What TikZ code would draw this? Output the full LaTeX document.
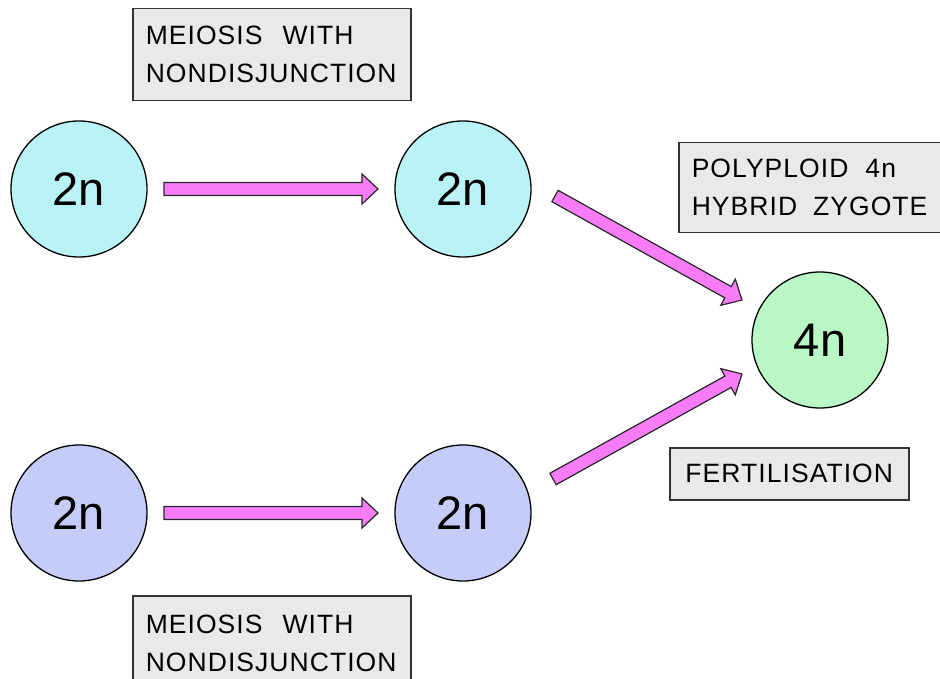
\documentclass[tikz,border=0pt]{standalone}
\usepackage{fontspec}
\setmainfont{Liberation Sans}
\newfontfamily\boxfont{Liberation Sans}[LetterSpace=4]
\usetikzlibrary{calc}

\definecolor{cellcyan}{HTML}{B9F3F6}
\definecolor{cellblue}{HTML}{C6CCF8}
\definecolor{cellgreen}{HTML}{B9F7C4}
\definecolor{arrowpink}{HTML}{F87CF8}
\definecolor{boxgrey}{HTML}{E9E9E9}
\definecolor{edgegrey}{HTML}{333333}

% broad outlined arrow from #1 (tail) to #2 (tip)
\newcommand\fatarrow[2]{%
  \coordinate (hb) at ($(#2)!16pt!(#1)$);
  \draw[broadarrow]
    ($(#1)!6.5pt!90:(#2)$) -- ($(hb)!6.5pt!90:(#2)$) -- ($(hb)!15pt!90:(#2)$)
    -- (#2)
    -- ($(hb)!15pt!-90:(#2)$) -- ($(hb)!6.5pt!-90:(#2)$) -- ($(#1)!6.5pt!-90:(#2)$)
    -- cycle;}

\begin{document}
\begin{tikzpicture}[x=1pt,y=-1pt,
  cell/.style={circle, draw=black, line width=1.3pt, minimum size=136pt, inner sep=0pt,
    font=\fontsize{47}{50}\selectfont},
  labelbox/.style={draw=edgegrey, fill=boxgrey, line width=1.5pt, anchor=north west,
    align=left, font=\boxfont\fontsize{26.5}{38}\selectfont, inner xsep=13pt, inner ysep=0pt},
  broadarrow/.style={draw=black!85, fill=arrowpink, line width=1.2pt, line join=miter}]
\useasboundingbox (0,0) rectangle (940,679);

% label boxes
\node[labelbox, minimum width=278pt, minimum height=92pt, text width=252pt] (mtop) at (132,8)
  {MEIOSIS\hspace{20pt}WITH\\NONDISJUNCTION};
\node[labelbox, minimum width=278pt, minimum height=96pt, text width=252pt] (mbot) at (132,595)
  {MEIOSIS\hspace{20pt}WITH\\NONDISJUNCTION};
\node[labelbox, minimum width=272pt, minimum height=90pt, text width=246pt] (poly) at (678,142)
  {POLYPLOID\hspace{17pt}4n\\HYBRID\hspace{16pt}ZYGOTE};
\node[labelbox, minimum width=239pt, minimum height=52pt, align=center] (fert) at (669,447)
  {FERTILISATION};

% cells
\node[cell, fill=cellcyan]  (tl) at (79,189)  {2n};
\node[cell, fill=cellcyan]  (tm) at (463,189) {2n};
\node[cell, fill=cellblue]  (bl) at (79,513)  {2n};
\node[cell, fill=cellblue]  (bm) at (463,513) {2n};
\node[cell, fill=cellgreen] (zy) at (820,340) {4n};

% arrow ends
\coordinate (t1s) at ($(tl.center)+(85,0)$);
\coordinate (t1e) at ($(tm.center)+(-85,0)$);
\coordinate (b1s) at ($(bl.center)+(85,0)$);
\coordinate (b1e) at ($(bm.center)+(-85,0)$);
\coordinate (t2s) at ($(tm.center)+(92,7)$);
\coordinate (t2e) at ($(zy.center)+(-78,-40)$);
\coordinate (b2s) at ($(bm.center)+(90,-34)$);
\coordinate (b2e) at ($(zy.center)+(-78,34)$);

\fatarrow{t1s}{t1e}
\fatarrow{b1s}{b1e}
\fatarrow{t2s}{t2e}
\fatarrow{b2s}{b2e}
\end{tikzpicture}
\end{document}
